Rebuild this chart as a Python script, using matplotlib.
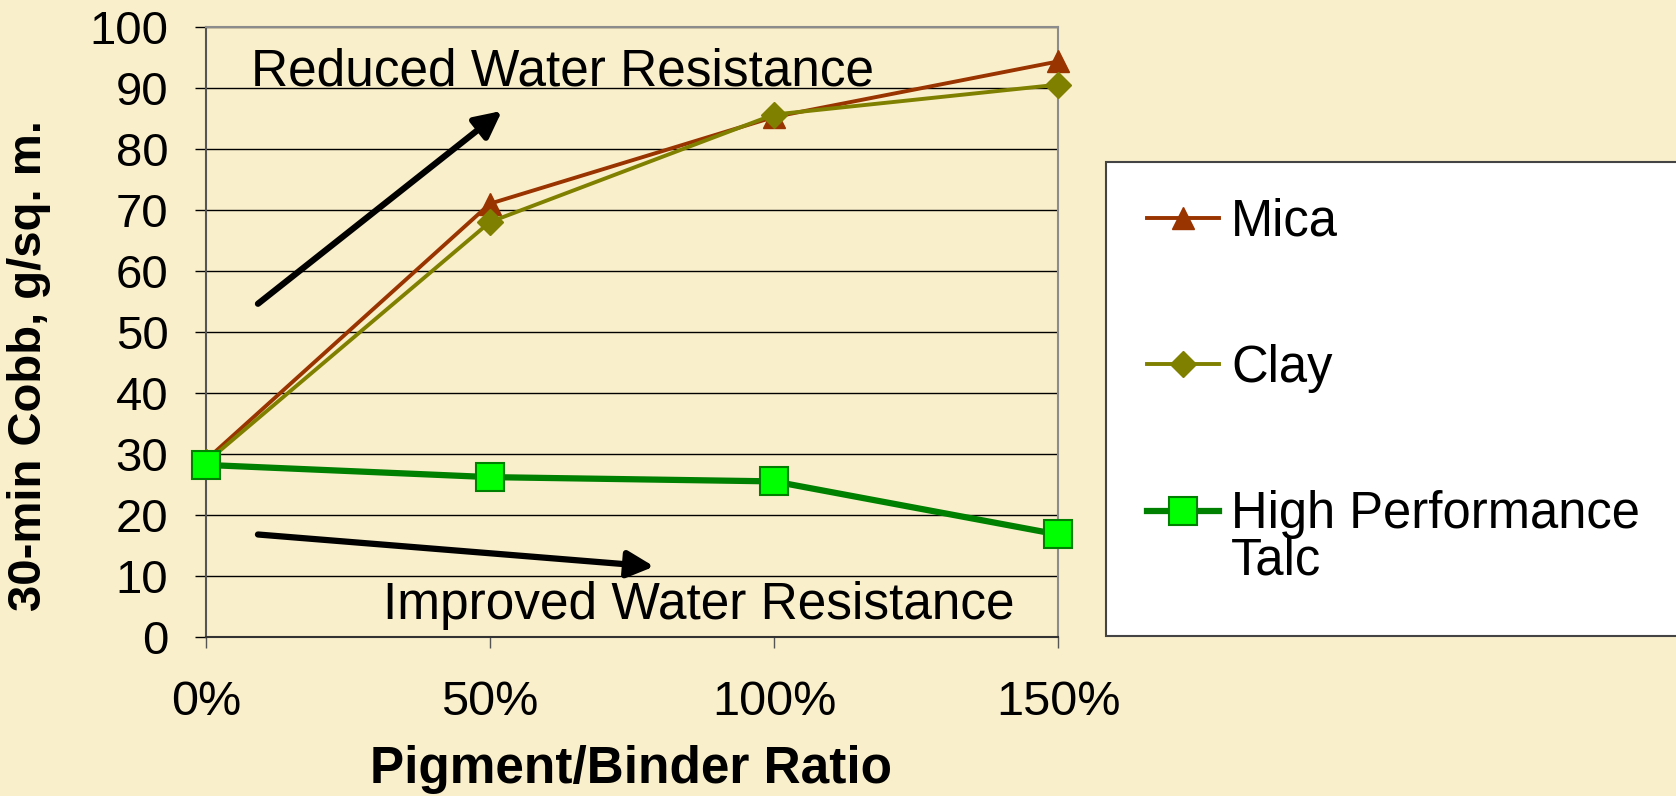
import matplotlib
matplotlib.use('Agg')
import matplotlib.pyplot as plt
from matplotlib.patches import Rectangle

plt.rcParams['font.family'] = ['Liberation Sans', 'DejaVu Sans']

# data
ratios = [0, 50, 100, 150]
ratio_labels = ['0%', '50%', '100%', '150%']
mica = [29.0, 71.0, 85.2, 94.3]
clay = [28.6, 68.0, 85.6, 90.5]
talc = [28.2, 26.2, 25.5, 16.8]

bg = '#FAEFCB'

fig = plt.figure(figsize=(16.76, 7.96), dpi=100, facecolor=bg)
ax = fig.add_axes([0.1229, 0.1997, 0.5084, 0.7668])
ax.set_facecolor(bg)

ax.plot(ratios, mica, color='#993300', lw=2.8, marker='^', ms=16,
        mec='#993300', mfc='#993300', clip_on=False, label='Mica', zorder=3)
ax.plot(ratios, clay, color='#808000', lw=2.8, marker='D', ms=13,
        mec='#808000', mfc='#808000', clip_on=False, label='Clay', zorder=4)
ax.plot(ratios, talc, color='#008000', lw=4.5, marker='s', ms=20,
        mec='#008000', mfc='#00FF00', mew=1.5, clip_on=False,
        label='High Performance', zorder=5)

ax.set_xlim(0, 150)
ax.set_ylim(0, 100)
ax.set_yticks(range(0, 101, 10))
ax.set_xticks(ratios, ratio_labels)
ax.yaxis.grid(True, color='black', lw=1.0)
ax.set_axisbelow(True)
ax.tick_params(axis='both', length=8, width=1, pad=19, labelsize=34, direction='out')
ax.tick_params(axis='x', color='#555555', pad=23, labelsize=35)
ax.spines['left'].set_color('#555555')
ax.spines['top'].set_color('#8c8c8c')
ax.spines['right'].set_color('#8c8c8c')
ax.spines['bottom'].set_color('#333333')
for s in ax.spines.values():
    s.set_linewidth(1.5)

# arrows and notes
ax.annotate('', xy=(52.1, 86.2), xytext=(9.15, 54.6),
            arrowprops=dict(arrowstyle='-|>,head_length=0.8,head_width=0.4',
                            lw=4.5, color='black', mutation_scale=20,
                            shrinkA=0, shrinkB=0))
ax.text(7.9, 90.4, 'Reduced Water Resistance', fontsize=37, va='baseline')
ax.annotate('', xy=(78.9, 11.55), xytext=(9.15, 16.8),
            arrowprops=dict(arrowstyle='-|>,head_length=0.8,head_width=0.4',
                            lw=4.5, color='black', mutation_scale=20,
                            shrinkA=0, shrinkB=0))
ax.text(31.2, 3.0, 'Improved Water Resistance', fontsize=37, va='baseline')

fig.text(0.0173, 0.541, '30-min Cobb, g/sq. m.', rotation=90, fontsize=34,
         fontweight='bold', ha='center', va='center')
fig.text(0.3765, 0.0327, 'Pigment/Binder Ratio', fontsize=37,
         fontweight='bold', ha='center', va='center')

# legend box
box = Rectangle((0.660, 0.201), 0.36, 0.5955, transform=fig.transFigure,
                facecolor='white', edgecolor='#444444', lw=1.5, zorder=-1)
fig.add_artist(box)

leg = ax.legend(loc='center left', bbox_to_anchor=(0.6844, 0.537),
                bbox_transform=fig.transFigure, frameon=False, fontsize=36.5,
                handlelength=1.41, handletextpad=0.25, labelspacing=1.92,
                borderpad=0, borderaxespad=0, numpoints=1)
ax.annotate('Talc', xy=(0, 0), xycoords=leg.get_texts()[2], xytext=(0, -33),
            textcoords='offset points', fontsize=36.5, va='bottom', ha='left',
            annotation_clip=False, zorder=10)

fig.canvas.draw()
plt.savefig('out.png', dpi=100, facecolor=bg)
